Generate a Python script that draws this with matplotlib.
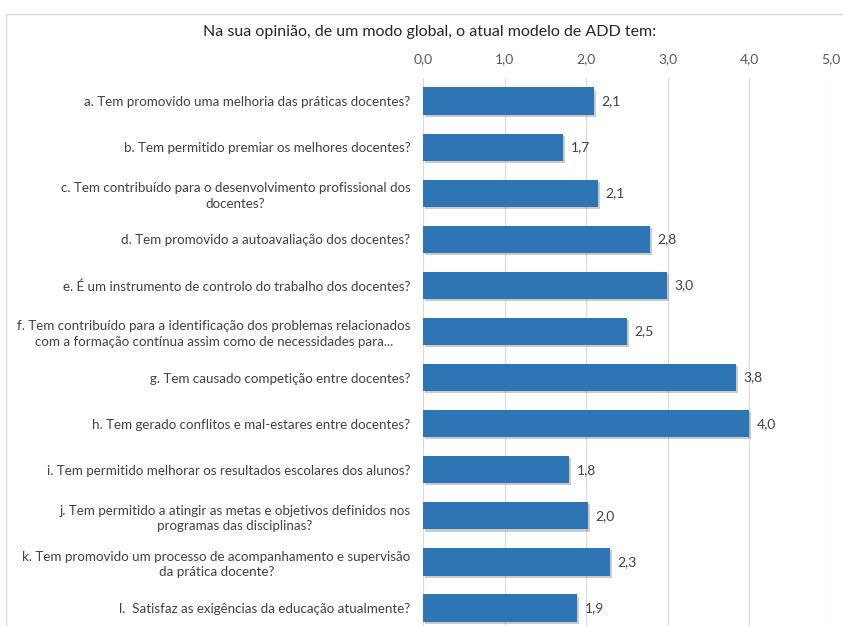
import numpy as np
import matplotlib.pyplot as plt
from matplotlib import patheffects
from matplotlib.patches import Rectangle

plt.rcParams['font.family'] = ['Lato', 'DejaVu Sans']

title = "Na sua opinião, de um modo global, o atual modelo de ADD tem:"
questions = [
    "a. Tem promovido uma melhoria das práticas docentes?",
    "b. Tem permitido premiar os melhores docentes?",
    "c. Tem contribuído para o desenvolvimento profissional dos\ndocentes?",
    "d. Tem promovido a autoavaliação dos docentes?",
    "e. É um instrumento de controlo do trabalho dos docentes?",
    "f. Tem contribuído para a identificação dos problemas relacionados\ncom a formação contínua assim como de necessidades para...",
    "g. Tem causado competição entre docentes?",
    "h. Tem gerado conflitos e mal-estares entre docentes?",
    "i. Tem permitido melhorar os resultados escolares dos alunos?",
    "j. Tem permitido a atingir as metas e objetivos definidos nos\nprogramas das disciplinas?",
    "k. Tem promovido um processo de acompanhamento e supervisão\nda prática docente?",
    "l.  Satisfaz as exigências da educação atualmente?",
]
scores = [2.10, 1.72, 2.14, 2.78, 2.99, 2.50, 3.84, 4.00, 1.79, 2.02, 2.29, 1.89]
xticks = [0, 1, 2, 3, 4, 5]

fig = plt.figure(figsize=(8.43, 6.26), dpi=100)

# light frame around the chart area
fig.patches.append(Rectangle((6 / 843, -0.01), 1.0, 1 - 14 / 626 + 0.01,
                             transform=fig.transFigure, fill=False,
                             edgecolor="#d9d9d9", linewidth=1.0))

ax = fig.add_axes([423 / 843, 0, 408 / 843, (626 - 78) / 626])
y = np.arange(len(questions))
bars = ax.barh(y, scores, height=0.59, color="#2e75b6", zorder=3)
for b in bars:
    b.set_path_effects([patheffects.SimplePatchShadow(offset=(1.5, -1.5), shadow_rgbFace="#8c8c8c", alpha=0.45),
                        patheffects.Normal()])

for yi, v in zip(y, scores):
    ax.text(v + 0.09, yi, f"{v:.1f}".replace(".", ","), va="center", ha="left",
            fontsize=10, color="#404040")

ax.set_xlim(0, 5)
ax.set_ylim(11.39, -0.5)
ax.set_xticks(xticks)
ax.set_xticklabels([f"{t:.1f}".replace(".", ",") for t in xticks], fontsize=10, color="#595959")
ax.xaxis.tick_top()
ax.tick_params(axis="x", length=0, pad=9)
ax.set_yticks(y)
ax.set_yticklabels(questions, fontsize=9.6, color="#404040", multialignment="center",
                   linespacing=1.35)
ax.tick_params(axis="y", length=0, pad=9)
ax.grid(axis="x", color="#d9d9d9", linewidth=0.8, zorder=0)
for s in ax.spines.values():
    s.set_visible(False)

fig.text(430 / 843, 1 - 32 / 626, title, ha="center", va="center", fontsize=11.5, color="#262626")

fig.savefig("out.png", dpi=100)
